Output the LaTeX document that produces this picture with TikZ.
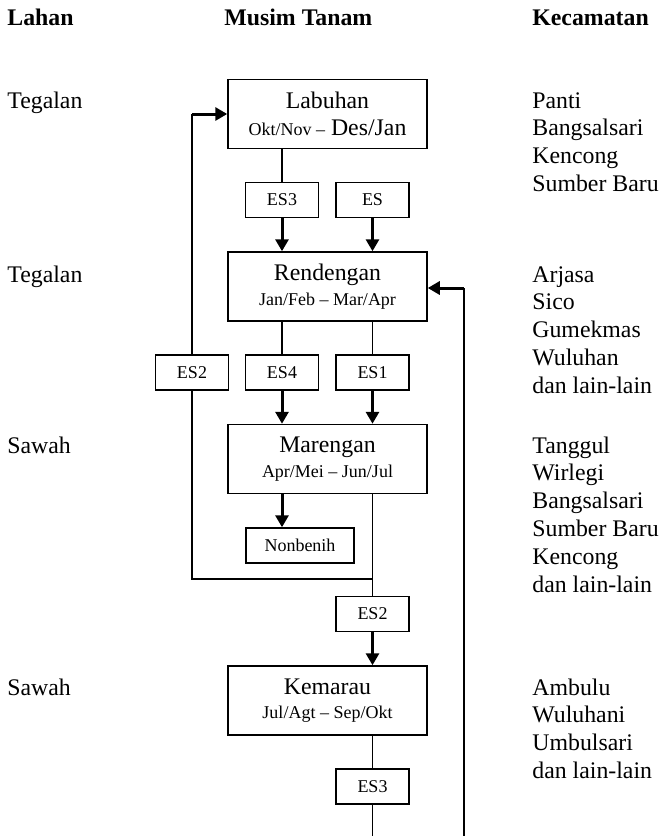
\documentclass[tikz,border=0pt]{standalone}
\usepackage{fontspec}
\setmainfont{Liberation Serif}
\usetikzlibrary{arrows.meta}
\newcommand{\kecil}{\fontsize{9}{11}\selectfont}
\begin{document}
\begin{tikzpicture}[x=0.5pt, y=-0.5pt,
    season/.style = {draw, line width=0.75pt, minimum width=99.5pt, minimum height=34.5pt,
      inner sep=0pt, align=center, font=\fontsize{11.9}{13.9}\selectfont},
    tag/.style = {draw, line width=0.75pt, minimum width=36.5pt, minimum height=17.5pt,
      inner sep=0pt, font=\kecil},
    txt/.style = {anchor=base west, inner sep=0pt, font=\fontsize{11.9}{13.9}\selectfont},
    head/.style = {txt, font=\bfseries\fontsize{11.9}{13.9}\selectfont},
    link/.style = {draw, line width=0.75pt},
    flow/.style = {draw, line width=1.5pt, -{Triangle[length=6pt,width=6.5pt]}}]
  \useasboundingbox (0,0) rectangle (661,836);
  %headers
  \node[head] (hlahan) at (7,25) {Lahan};
  \node[head] (hmusim) at (224,25) {Musim Tanam};
  \node[head] (hkec) at (532,25) {Kecamatan};
  %lahan
  \node[txt] (l1) at (7,108) {Tegalan};
  \node[txt] (l2) at (7,282) {Tegalan};
  \node[txt] (l3) at (7,453) {Sawah};
  \node[txt] (l4) at (7,695) {Sawah};
  %kecamatan
  \foreach \name [count=\i] in {Panti, Bangsalsari, Kencong, Sumber Baru}
    \node[txt] (ka\i) at (532,{108+27.8*(\i-1)}) {\name};
  \foreach \name [count=\i] in {Arjasa, Sico, Gumekmas, Wuluhan, dan lain-lain}
    \node[txt] (kb\i) at (532,{282+27.8*(\i-1)}) {\name};
  \foreach \name [count=\i] in {Tanggul, Wirlegi, Bangsalsari, Sumber Baru, Kencong, dan lain-lain}
    \node[txt] (kc\i) at (532,{453+27.8*(\i-1)}) {\name};
  \foreach \name [count=\i] in {Ambulu, Wuluhani, Umbulsari, dan lain-lain}
    \node[txt] (kd\i) at (532,{695+27.8*(\i-1)}) {\name};
  %musim tanam
  \node[season] (lab) at (327.5,114) {Labuhan\\[-0.4pt]{\kecil Okt/Nov --} Des/Jan};
  \node[season] (ren) at (327.5,286.5) {Rendengan\\[-1.6pt]{\kecil Jan/Feb -- Mar/Apr}};
  \node[season] (mar) at (327.5,459) {Marengan\\[-1.6pt]{\kecil Apr/Mei -- Jun/Jul}};
  \node[season] (kem) at (327.5,700.5) {Kemarau\\[-1.6pt]{\kecil Jul/Agt -- Sep/Okt}};
  %benih
  \node[tag] (es3) at (282,200) {ES3};
  \node[tag] (es) at (372.5,200) {ES};
  \node[tag] (es2) at (192,372.5) {ES2};
  \node[tag] (es4) at (282,372.5) {ES4};
  \node[tag] (es1) at (372.5,372.5) {ES1};
  \node[tag, minimum width=54pt] (non) at (300,545.5) {Nonbenih};
  \node[tag] (es2b) at (372.5,614) {ES2};
  \node[tag] (es3b) at (372.5,786.5) {ES3};
  \coordinate (up) at (es2 |- lab.west);
  \coordinate (join) at (192,579);
  \coordinate (end1) at (372.5,836);
  \coordinate (end2) at (464,836);
  \coordinate (back) at (464,288);
  %edges
  \path[link] (es3.north |- lab.south) -- (es3.north);
  \path[flow] (es3.south) -- (es3.south |- ren.north);
  \path[flow] (es.south) -- (es.south |- ren.north);
  \path[link] (es4.north |- ren.south) -- (es4.north);
  \path[link] (es1.north |- ren.south) -- (es1.north);
  \path[flow] (es4.south) -- (es4.south |- mar.north);
  \path[flow] (es1.south) -- (es1.south |- mar.north);
  \path[link] (es2.north) -- (up);
  \path[flow] (up) -- (lab.west);
  \path[link] (es2.south) -- (join) -- (join -| es2b);
  \path[flow] (es4.south |- mar.south) -- (es4.south |- non.north);
  \path[link] (es2b.north |- mar.south) -- (es2b.north);
  \path[flow] (es2b.south) -- (es2b.south |- kem.north);
  \path[link] (es3b.north |- kem.south) -- (es3b.north);
  \path[link] (es3b.south) -- (end1);
  \path[link] (end2) -- (back);
  \path[flow] (back) -- (back -| ren.east);
\end{tikzpicture}
\end{document}
